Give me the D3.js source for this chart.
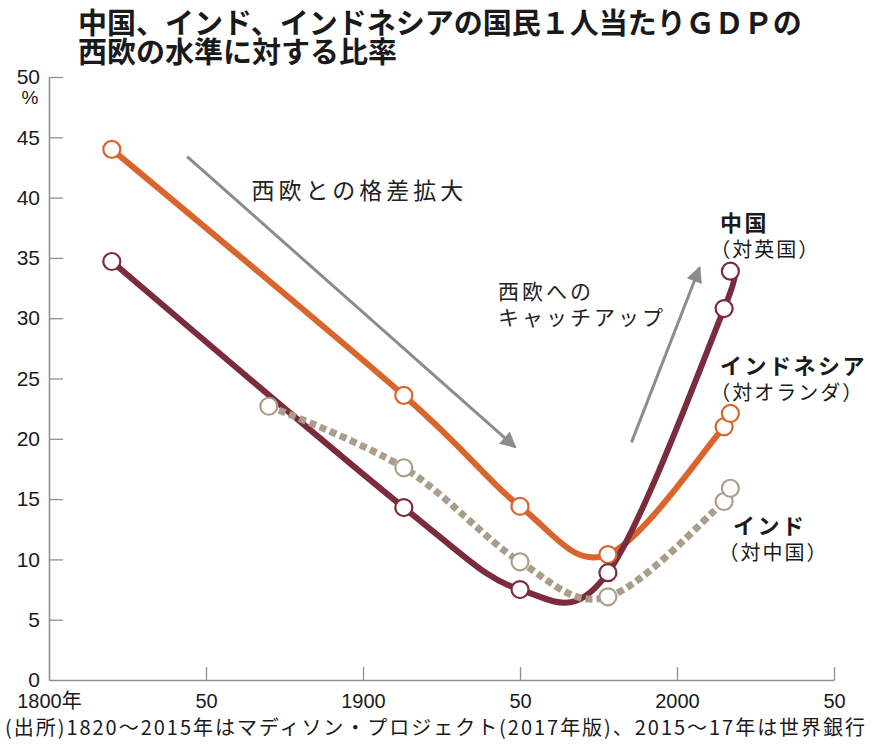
<!DOCTYPE html>
<html>
<head>
<meta charset="utf-8">
<script src="https://cdn.jsdelivr.net/npm/d3@7"></script>
<style>
  body { margin: 0; background: #fff; }
  svg { display: block; }
</style>
</head>
<body>
<svg id="chart" width="872" height="746"></svg>
<script>
// GDP per capita relative to the Western European benchmark, in percent
const indonesiaYears = [1820, 1913, 1950, 1978, 2015, 2017];
const indonesiaValues = [44.0, 23.6, 14.4, 10.4, 21.0, 22.1];

const chinaYears = [1820, 1913, 1950, 1978, 2015, 2017];
const chinaValues = [34.7, 14.3, 7.5, 8.9, 30.8, 33.9];

const indiaYears = [1870, 1913, 1950, 1978, 2015, 2017];
const indiaValues = [22.7, 17.6, 9.8, 6.9, 14.8, 15.9];

const xTicks = [1800, 1850, 1900, 1950, 2000, 2050];
const xTickLabels = ["1800年", "50", "1900", "50", "2000", "50"];
const yTicks = [0, 5, 10, 15, 20, 25, 30, 35, 40, 45, 50];

const titleLines = ["中国、インド、インドネシアの国民１人当たりＧＤＰの", "西欧の水準に対する比率"];
const sourceText = "(出所)1820～2015年はマディソン・プロジェクト(2017年版)、2015～17年は世界銀行";

// label: [year of name, value of name baseline, year of the sub-label]
const series = [
  { name: "インドネシア", sub: "（対オランダ）", years: indonesiaYears, values: indonesiaValues,
    color: "#d9652d", dashed: false, label: [2013.7, 25.4, 2010.6] },
  { name: "中国", sub: "（対英国）", years: chinaYears, values: chinaValues,
    color: "#7b2c3c", dashed: false, label: [2013.7, 37.2, 2010.6] },
  { name: "インド", sub: "（対中国）", years: indiaYears, values: indiaValues,
    color: "#aa9d89", dashed: true, label: [2017.8, 12.1, 2013.2] }
];

// trend arrows: [fromYear, fromValue, toYear, toValue]
const arrows = [
  [1844, 43.4, 1948.5, 19.3],
  [1985.5, 19.7, 2007.2, 34.2]
];
const notes = [
  { lines: ["西欧との格差拡大"], at: [1864.5, 39.9], size: 23, spacing: 4 },
  { lines: ["西欧への", "キャッチアップ"], at: [1943, 31.6], size: 21, spacing: 3 }
];

const svg = d3.select("#chart");
const x = d3.scaleLinear().domain([1800, 2050]).range([49, 834]);
const y = d3.scaleLinear().domain([0, 50]).range([680, 77]);

const sans = "'Liberation Sans', Arial, 'Noto Sans CJK JP', sans-serif";
const cjk = "'Noto Sans CJK JP', sans-serif";

// title
svg.append("g").selectAll("text").data(titleLines).join("text")
  .attr("x", 78).attr("y", (d, i) => 34 + i * 29)
  .attr("font-family", cjk).attr("font-weight", "bold")
  .attr("font-size", 29).attr("fill", "#1a1a1a")
  .text(d => d);

// axes
const axisColor = "#8f8f8f";
const yAxis = svg.append("g").attr("transform", `translate(${x(1800)},0)`)
  .call(d3.axisLeft(y).tickValues(yTicks).tickSizeInner(-14).tickSizeOuter(0).tickPadding(9));
yAxis.selectAll("text").attr("font-family", sans).attr("font-size", 21).attr("fill", "#1a1a1a");

const xAxis = svg.append("g").attr("transform", `translate(0,${y(0)})`)
  .call(d3.axisBottom(x).tickValues(xTicks).tickFormat((d, i) => xTickLabels[i])
    .tickSizeInner(-13).tickSizeOuter(0).tickPadding(10));
xAxis.selectAll("text").attr("font-family", sans).attr("font-size", 20).attr("fill", "#1a1a1a")
  .attr("dy", "0.9em");

[yAxis, xAxis].forEach(g => {
  g.select(".domain").attr("stroke", axisColor).attr("stroke-width", 1.6);
  g.selectAll(".tick line").attr("stroke", axisColor).attr("stroke-width", 1.3);
});
yAxis.selectAll(".tick").filter(d => d === 0).select("line").remove();
xAxis.selectAll(".tick").filter(d => d === 1800).select("line").remove();

svg.append("text").attr("x", 30).attr("y", 104).attr("text-anchor", "middle")
  .attr("font-family", sans).attr("font-size", 19).attr("fill", "#1a1a1a").text("%");

// arrows
const defs = svg.append("defs");
defs.append("marker").attr("id", "head").attr("viewBox", "0 0 10 10")
  .attr("refX", 9).attr("refY", 5).attr("markerWidth", 6).attr("markerHeight", 5.4)
  .attr("markerUnits", "strokeWidth").attr("orient", "auto")
  .append("path").attr("d", "M0,0 L10,5 L0,10 Z").attr("fill", "#8c8c8c");

svg.append("g").selectAll("line").data(arrows).join("line")
  .attr("x1", d => x(d[0])).attr("y1", d => y(d[1]))
  .attr("x2", d => x(d[2])).attr("y2", d => y(d[3]))
  .attr("stroke", "#8c8c8c").attr("stroke-width", 3)
  .attr("marker-end", "url(#head)");

// notes
notes.forEach(n => {
  svg.append("g").selectAll("text").data(n.lines).join("text")
    .attr("x", x(n.at[0])).attr("y", (d, i) => y(n.at[1]) + i * 26)
    .attr("font-family", cjk).attr("font-size", n.size).attr("letter-spacing", n.spacing)
    .attr("fill", "#222").text(d => d);
});

// lines
const line = d3.line().curve(d3.curveCardinal.tension(0))
  .x(d => x(d[0])).y(d => y(d[1]));

series.forEach(s => {
  const pts = s.years.map((yr, i) => [yr, s.values[i]]);
  svg.append("path").datum(pts)
    .attr("d", line).attr("fill", "none")
    .attr("stroke", s.color).attr("stroke-width", s.dashed ? 7 : 6)
    .attr("stroke-dasharray", s.dashed ? "7,4" : null);
});

series.forEach(s => {
  const pts = s.years.map((yr, i) => [yr, s.values[i]]);
  svg.append("g").selectAll("circle").data(pts).join("circle")
    .attr("cx", d => x(d[0])).attr("cy", d => y(d[1])).attr("r", 8.5)
    .attr("fill", "#fff").attr("stroke", s.color).attr("stroke-width", 2.2);
});

// series labels
series.forEach(s => {
  const ly = y(s.label[1]);
  svg.append("text").attr("x", x(s.label[0])).attr("y", ly)
    .attr("font-family", cjk).attr("font-weight", "bold").attr("font-size", 22)
    .attr("letter-spacing", 2.5).attr("fill", "#1a1a1a").text(s.name);
  svg.append("text").attr("x", x(s.label[2])).attr("y", ly + 26)
    .attr("font-family", cjk).attr("font-size", 20).attr("letter-spacing", 2)
    .attr("fill", "#1a1a1a").text(s.sub);
});

// source
svg.append("text").attr("x", 5).attr("y", 735)
  .attr("font-family", cjk).attr("font-size", 20).attr("fill", "#1a1a1a")
  .attr("textLength", 860).attr("lengthAdjust", "spacing")
  .text(sourceText);
</script>
</body>
</html>
